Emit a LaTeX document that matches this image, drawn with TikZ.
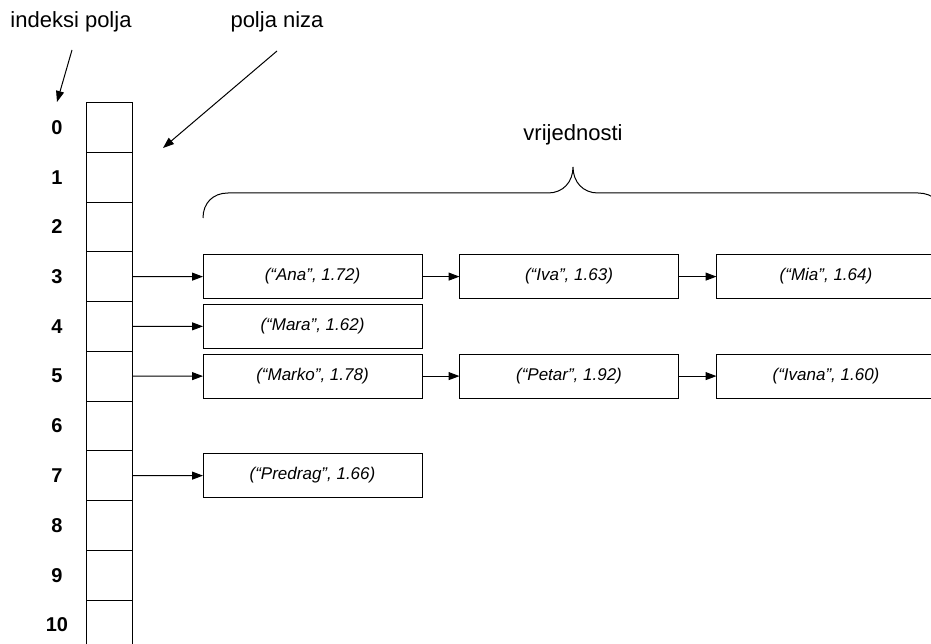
\documentclass[tikz,border=0pt]{standalone}
\usepackage{fontspec}
\setmainfont{Liberation Sans}
\usetikzlibrary{arrows.meta}
\begin{document}
\begin{tikzpicture}[x=1pt,y=-1pt,
  line width=1pt,
  tip/.style={-{Triangle[length=11pt,width=8pt]}},
  cell/.style={draw, minimum width=46pt, minimum height=49.75pt, inner sep=0pt, outer sep=0pt},
  idx/.style={font=\fontsize{20}{22}\selectfont\bfseries},
  entry/.style={draw, minimum width=219pt, minimum height=44pt, inner sep=0pt, outer sep=0pt,
                font=\fontsize{17}{19}\selectfont\itshape},
  head/.style={font=\fontsize{22}{24}\selectfont}]
\useasboundingbox (0,0) rectangle (931,644);
\clip (0,0) rectangle (931,644);

% array cells and their indices
\foreach \i in {0,...,10} {
  \node[cell] (c\i) at (109, 127.4+49.75*\i) {};
  \node[idx] (n\i) at (57, 127.4+49.75*\i) {\i};
}

% headings
\node[head] (hidx) at (71, 22) {indeksi polja};
\node[head] (harr) at (277, 22) {polja niza};
\node[head] (hval) at (573, 135) {vrijednosti};
\coordinate (aidx1) at (72, 50);
\coordinate (aidx2) at (57, 102);
\coordinate (aarr1) at (277, 51);
\coordinate (aarr2) at (163, 148);
\draw[tip] (aidx1) -- (aidx2);
\draw[tip] (aarr1) -- (aarr2);

% brace over the stored values
\draw (203,218) .. controls (203,203) and (213,193) .. (228,193)
  -- (548,193) .. controls (563,193) and (573,182) .. (573,167)
  .. controls (573,182) and (583,193) .. (598,193)
  -- (918,193) .. controls (933,193) and (943,203) .. (943,218);

% chained entries
\node[entry] (ana)   at (312.5, 276.6) {(“Ana”, 1.72)};
\node[entry] (iva)   at (569,   276.6) {(“Iva”, 1.63)};
\node[entry] (mia)   at (826,   276.6) {(“Mia”, 1.64)};
\node[entry] (mara)  at (312.5, 326.3) {(“Mara”, 1.62)};
\node[entry] (marko) at (312.5, 376.1) {(“Marko”, 1.78)};
\node[entry] (petar) at (569,   376.1) {(“Petar”, 1.92)};
\node[entry] (ivana) at (826,   376.1) {(“Ivana”, 1.60)};
\node[entry] (pred)  at (312.5, 475.6) {(“Predrag”, 1.66)};

\draw[tip] (c3) -- (ana);
\draw[tip] (ana) -- (iva);
\draw[tip] (iva) -- (mia);
\draw[tip] (c4) -- (mara);
\draw[tip] (c5) -- (marko);
\draw[tip] (marko) -- (petar);
\draw[tip] (petar) -- (ivana);
\draw[tip] (c7) -- (pred);
\end{tikzpicture}
\end{document}
